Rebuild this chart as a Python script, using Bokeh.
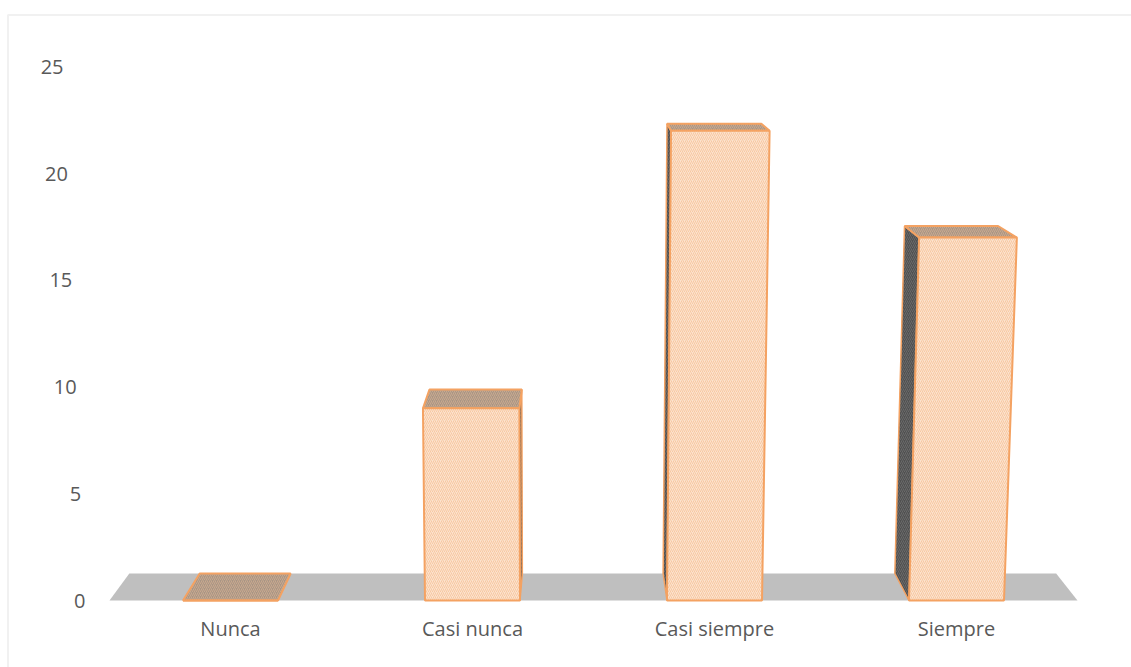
from bokeh.plotting import figure
from bokeh.models import Range1d, BoxAnnotation, ColumnDataSource
from bokeh.core.properties import value
from bokeh.embed import file_html
from bokeh.resources import INLINE

# ---- data ----
categories = ["Nunca", "Casi nunca", "Casi siempre", "Siempre"]
values = [0, 9, 22, 17]
y_ticks = [0, 5, 10, 15, 20, 25]
y_tick_labels = ["0", "5", "10", "15", "20", "25"]

# ---- layout constants (pixels of the 1131x667 page) ----
W, H = 1131, 667
CX0, CDX = 230.0, 242.0      # pixel of first category centre, spacing
PY0, PPU = 600.0, 21.35      # pixel of value 0, pixels per unit

def dx(px):
    return (px - CX0) / CDX

def dy(py):
    return (PY0 - py) / PPU

X0, X1 = dx(0), dx(W)
Y0, Y1 = dy(H), dy(0)

BAR_HALF = 47.5 / CDX
VPX, VPY = dx(575), dy(-35)   # vanishing point of the depth direction
DEPTH_T = 0.0425
SLANT_A, SLANT_XC = 0.0017, dx(558)
FLOOR_L, FLOOR_R = -0.5, 3.5


def back(x, y):
    return x + (VPX - x) * DEPTH_T, y + (VPY - y) * DEPTH_T


def slant(x, v):
    return x + SLANT_A * (x - SLANT_XC) * v


def poly(pts):
    return [p[0] for p in pts], [p[1] for p in pts]


p = figure(width=W, height=H, x_range=Range1d(X0, X1), y_range=Range1d(Y0, Y1),
           output_backend="svg", toolbar_location=None,
           x_axis_location=None, y_axis_location=None, min_border=0)
p.xgrid.visible = False
p.ygrid.visible = False
p.outline_line_color = None
p.background_fill_color = "white"
p.border_fill_color = "white"

# chart border
p.add_layout(BoxAnnotation(left=dx(7.5), top=dy(14.5), right=X1 + 1, bottom=Y0 - 1,
                           fill_alpha=0, line_color="#D0D0D0", line_width=2))

# floor
fb = [(FLOOR_L, 0), (FLOOR_R, 0), back(FLOOR_R, 0), back(FLOOR_L, 0)]
fx, fy = poly(fb)
p.patch(fx, fy, fill_color="#BFBFBF", line_color=None)

# bars
side_xs, side_ys, top_xs, top_ys, front_xs, front_ys = [], [], [], [], [], []
for i, v in enumerate(values):
    xl, xr = i - BAR_HALF, i + BAR_HALF
    fbl, fbr = (xl, 0), (xr, 0)
    ftl, ftr = (slant(xl, v), v), (slant(xr, v), v)
    if xl > VPX and v > 0:
        sx, sy = poly([fbl, ftl, back(*ftl), back(*fbl)])
        side_xs.append(sx); side_ys.append(sy)
    if xr < VPX and v > 0:
        sx, sy = poly([fbr, ftr, back(*ftr), back(*fbr)])
        side_xs.append(sx); side_ys.append(sy)
    tx, ty = poly([ftl, ftr, back(*ftr), back(*ftl)])
    top_xs.append(tx); top_ys.append(ty)
    frx, fry = poly([fbl, fbr, ftr, ftl])
    front_xs.append(frx); front_ys.append(fry)

ORANGE = "#F4A262"
p.patches(side_xs, side_ys, fill_color="#505050", hatch_pattern="/",
          hatch_color="#6A6A6A", hatch_scale=4, hatch_weight=1,
          line_color=ORANGE, line_width=1.5)
p.patches(top_xs, top_ys, fill_color="#A99585", hatch_pattern="/",
          hatch_color="#C9A98E", hatch_scale=4, hatch_weight=1,
          line_color=ORANGE, line_width=2)
p.patches(front_xs, front_ys, fill_color="#FCE2CD", hatch_pattern="/",
          hatch_color="#F7C8A2", hatch_scale=4, hatch_weight=1,
          line_color=ORANGE, line_width=2)

# y tick labels (on the slanted back-wall edge)
TICK_XR0, TICK_SLOPE = 85.0, -0.88
tick_src = ColumnDataSource(dict(
    x=[dx(TICK_XR0 + TICK_SLOPE * t) for t in y_ticks],
    y=y_ticks, text=y_tick_labels))
p.text(x="x", y="y", text="text", source=tick_src, text_align="right",
       text_baseline="middle", text_font=value("Open Sans"),
       text_font_size="20px", text_color="#595959")

# category labels
cat_src = ColumnDataSource(dict(x=list(range(len(categories))),
                                y=[dy(628)] * len(categories), text=categories))
p.text(x="x", y="y", text="text", source=cat_src, text_align="center",
       text_baseline="middle", text_font=value("Open Sans"),
       text_font_size="20px", text_color="#595959")

open("out.html", "w").write(file_html(p, INLINE))
